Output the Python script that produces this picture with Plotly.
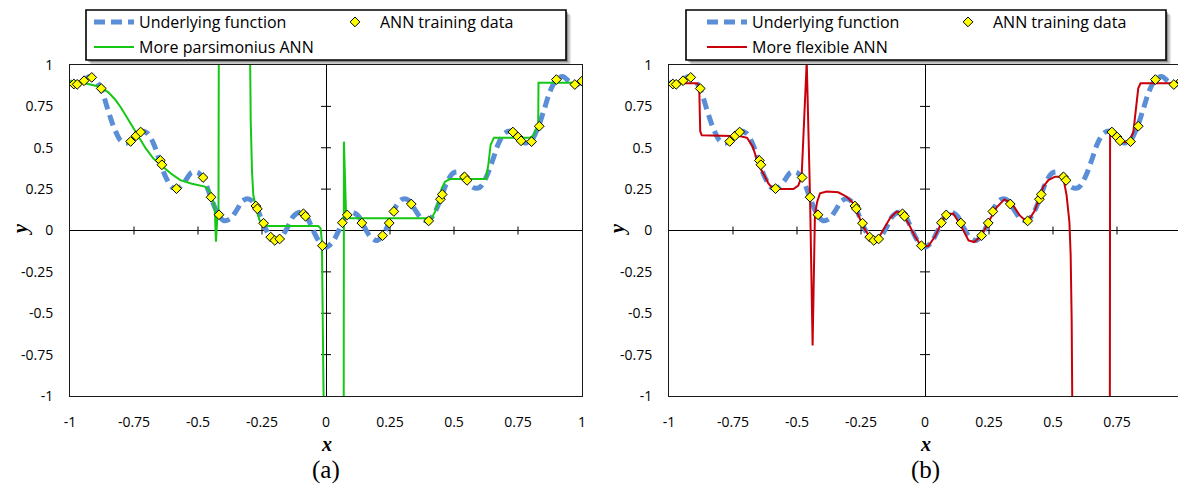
import plotly.graph_objects as go

W, H = 1178, 487

# Axis ticks
x_tick_vals = [-1, -0.75, -0.5, -0.25, 0, 0.25, 0.5, 0.75, 1]
x_tick_text = ["-1", "-0.75", "-0.5", "-0.25", "0", "0.25", "0.5", "0.75", "1"]
y_tick_vals = [-1, -0.75, -0.5, -0.25, 0, 0.25, 0.5, 0.75, 1]
y_tick_text = ["-1", "-0.75", "-0.5", "-0.25", "0", "0.25", "0.5", "0.75", "1"]

# Underlying function
func_x = [-1.0, -0.975, -0.95, -0.925, -0.9, -0.875, -0.85, -0.825, -0.8, -0.775,
          -0.75, -0.725, -0.7, -0.675, -0.65, -0.625, -0.6, -0.575, -0.55, -0.525,
          -0.5, -0.475, -0.45, -0.425, -0.4, -0.375, -0.35, -0.325, -0.3, -0.275,
          -0.25, -0.225, -0.2, -0.175, -0.15, -0.125, -0.1, -0.075, -0.05, -0.025,
          0.0, 0.025, 0.05, 0.075, 0.1, 0.125, 0.15, 0.175, 0.2, 0.225,
          0.25, 0.275, 0.3, 0.325, 0.35, 0.375, 0.4, 0.425, 0.45, 0.475,
          0.5, 0.525, 0.55, 0.575, 0.6, 0.625, 0.65, 0.675, 0.7, 0.725,
          0.75, 0.775, 0.8, 0.825, 0.85, 0.875, 0.9, 0.925, 0.95, 0.975, 1.0]
func_y = [0.90, 0.88, 0.90, 0.93, 0.91, 0.84, 0.72, 0.61, 0.54, 0.53,
          0.56, 0.60, 0.59, 0.53, 0.42, 0.32, 0.26, 0.26, 0.30, 0.35,
          0.35, 0.30, 0.20, 0.11, 0.06, 0.07, 0.12, 0.18, 0.19, 0.15,
          0.06, -0.02, -0.06, -0.04, 0.02, 0.09, 0.11, 0.08, 0.00, -0.07,
          -0.10, -0.07, 0.00, 0.08, 0.11, 0.09, 0.02, -0.04, -0.06, -0.02,
          0.06, 0.15, 0.19, 0.18, 0.12, 0.07, 0.06, 0.11, 0.20, 0.30,
          0.35, 0.35, 0.30, 0.26, 0.26, 0.32, 0.42, 0.53, 0.59, 0.60,
          0.56, 0.53, 0.54, 0.61, 0.72, 0.84, 0.91, 0.93, 0.90, 0.88, 0.90]

# ANN training data
train_x = [-0.985, -0.972, -0.945, -0.915, -0.878, -0.763, -0.742, -0.724, -0.647, -0.641,
           -0.584, -0.480, -0.449, -0.418, -0.274, -0.268, -0.244, -0.216, -0.200, -0.181,
           -0.088, -0.080, -0.014, 0.064, 0.083, 0.140, 0.221, 0.247, 0.265, 0.333,
           0.401, 0.447, 0.454, 0.541, 0.551, 0.730, 0.750, 0.762, 0.803, 0.833,
           0.900, 0.972, 1.000]
train_y = [0.885, 0.883, 0.905, 0.925, 0.858, 0.538, 0.572, 0.595, 0.423, 0.397,
           0.253, 0.320, 0.201, 0.095, 0.148, 0.131, 0.044, -0.040, -0.060, -0.051,
           0.101, 0.086, -0.092, 0.047, 0.094, 0.045, -0.031, 0.045, 0.115, 0.160,
           0.058, 0.189, 0.218, 0.324, 0.303, 0.595, 0.565, 0.542, 0.537, 0.630,
           0.912, 0.882, 0.903]

# More parsimonious ANN output
pars_x = [-1.000, -0.950, -0.900, -0.876, -0.850, -0.823, -0.800, -0.771, -0.750, -0.734,
          -0.704, -0.674, -0.644, -0.606, -0.569, -0.524, -0.473, -0.453, -0.440, -0.434,
          -0.430, -0.424, -0.420, -0.418, -0.300, -0.296, -0.294, -0.289, -0.284, -0.273,
          -0.260, -0.245, -0.225, -0.030, -0.021, -0.016, -0.006, 0.069, 0.070, 0.078,
          0.087, 0.094, 0.413, 0.426, 0.439, 0.452, 0.465, 0.484, 0.625, 0.634,
          0.643, 0.656, 0.797, 0.810, 0.823, 0.829, 0.830, 1.000]
pars_y = [0.905, 0.893, 0.875, 0.862, 0.835, 0.790, 0.740, 0.668, 0.615, 0.577,
          0.496, 0.435, 0.395, 0.344, 0.304, 0.283, 0.265, 0.235, 0.174, 0.114,
          -0.068, 0.094, 0.120, 1.600, 1.600, 1.000, 0.657, 0.355, 0.214, 0.134,
          0.063, 0.033, 0.027, 0.027, 0.013, -0.068, -1.500, -1.500, 0.537, 0.114,
          0.098, 0.074, 0.074, 0.114, 0.174, 0.255, 0.295, 0.311, 0.311, 0.396,
          0.517, 0.561, 0.561, 0.573, 0.627, 0.640, 0.893, 0.893]

# More flexible ANN output
flex_x = [-1.000, -0.890, -0.882, -0.878, -0.872, -0.800, -0.720, -0.695, -0.673, -0.658,
          -0.645, -0.632, -0.612, -0.595, -0.586, -0.514, -0.495, -0.482, -0.478, -0.462,
          -0.449, -0.439, -0.430, -0.421, -0.410, -0.384, -0.339, -0.306, -0.280, -0.260,
          -0.241, -0.221, -0.202, -0.182, -0.163, -0.137, -0.111, -0.091, -0.065, -0.039,
          -0.013, 0.013, 0.039, 0.081, 0.111, 0.140, 0.170, 0.192, 0.222, 0.251,
          0.281, 0.310, 0.340, 0.370, 0.400, 0.429, 0.462, 0.482, 0.508, 0.527,
          0.543, 0.553, 0.564, 0.569, 0.573, 0.576, 0.722, 0.723, 0.738, 0.755,
          0.781, 0.801, 0.814, 0.824, 0.833, 0.842, 1.000]
flex_y = [0.890, 0.890, 0.870, 0.600, 0.575, 0.573, 0.570, 0.560, 0.506, 0.435,
          0.380, 0.345, 0.285, 0.255, 0.251, 0.251, 0.271, 0.325, 0.456, 1.020,
          0.195, -0.695, 0.094, 0.174, 0.225, 0.235, 0.231, 0.204, 0.164, 0.094,
          0.023, -0.027, -0.057, -0.047, 0.003, 0.074, 0.114, 0.104, 0.044, -0.037,
          -0.098, -0.094, -0.037, 0.101, 0.101, 0.030, -0.060, -0.070, -0.030, 0.060,
          0.142, 0.188, 0.162, 0.091, 0.050, 0.121, 0.265, 0.305, 0.325, 0.325,
          0.295, 0.214, 0.053, -0.148, -0.551, -1.200, -1.200, 0.607, 0.567, 0.541,
          0.533, 0.547, 0.597, 0.718, 0.859, 0.889, 0.889]

BLUE = "#5A8ED6"
GREEN = "#14C814"
RED = "#C8000A"
YELLOW = "#FFFF00"

TICK_FONT = dict(family="Open Sans", size=14, color="#000000")
LEG_FONT = dict(family="Open Sans", size=16, color="#000000")
SERIF = "Liberation Serif"

# plot-area geometry in pixels and x pixel of the zero axis
PLOT_TOP, PLOT_BOTTOM = 65, 396
PANEL_A = dict(left=70, right=582, zero=326)
PANEL_B = dict(left=669, right=W, zero=925)
UNIT = 256  # pixels per x unit


def fx(p):
    return p / W


def fy(p):
    return 1 - p / H


fig = go.Figure()

panels = [
    dict(xa="x", ya="y", geo=PANEL_A, ann_name="More parsimonius ANN", ann_x=pars_x, ann_y=pars_y,
         ann_color=GREEN, legs=("legend", "legend2", "legend3"), tag="(a)",
         leg_box=(86, 566), leg_pos=(89, 330), ytitle_x=20),
    dict(xa="x2", ya="y2", geo=PANEL_B, ann_name="More flexible ANN", ann_x=flex_x, ann_y=flex_y,
         ann_color=RED, legs=("legend4", "legend5", "legend6"), tag="(b)",
         leg_box=(686, 1166), leg_pos=(702, 943), ytitle_x=617),
]

shapes = []
annotations = []
layout_extra = {}

for i, p in enumerate(panels):
    leg_func, leg_train, leg_ann = p["legs"]
    fig.add_trace(go.Scatter(
        x=func_x, y=func_y, mode="lines", name="Underlying function",
        line=dict(color=BLUE, width=5, dash="11px,6px", shape="spline", smoothing=1.0),
        xaxis=p["xa"], yaxis=p["ya"], legend=leg_func, hoverinfo="skip"))
    fig.add_trace(go.Scatter(
        x=p["ann_x"], y=p["ann_y"], mode="lines", name=p["ann_name"],
        line=dict(color=p["ann_color"], width=2),
        xaxis=p["xa"], yaxis=p["ya"], legend=leg_ann, hoverinfo="skip"))
    fig.add_trace(go.Scatter(
        x=train_x, y=train_y, mode="markers", name="ANN training data",
        marker=dict(symbol="diamond", size=7.5, color=YELLOW, line=dict(color="#000000", width=1)),
        xaxis=p["xa"], yaxis=p["ya"], legend=leg_train, hoverinfo="skip"))

    g = p["geo"]
    xmin = (g["left"] - g["zero"]) / UNIT
    xmax = (g["right"] - g["zero"]) / UNIT
    axis_common = dict(
        showgrid=False, zeroline=True, zerolinecolor="#000000", zerolinewidth=1,
        showline=True, linecolor="#1a1a1a", linewidth=1, ticks="",
        tickfont=TICK_FONT, fixedrange=True, automargin=False)
    xkey = "xaxis" if i == 0 else "xaxis2"
    ykey = "yaxis" if i == 0 else "yaxis2"
    layout_extra[xkey] = dict(
        axis_common, domain=[fx(g["left"]), fx(g["right"])], range=[xmin, xmax],
        tickvals=x_tick_vals, ticktext=x_tick_text, anchor=p["ya"], mirror=True,
        ticklabelstandoff=13)
    layout_extra[ykey] = dict(
        axis_common, domain=[fy(PLOT_BOTTOM), fy(PLOT_TOP)], range=[-1, 1],
        tickvals=y_tick_vals, ticktext=y_tick_text, anchor=p["xa"], mirror=(i == 0),
        ticklabelstandoff=13)

    # tick marks crossing the axes through the origin
    for t in x_tick_vals:
        if t in (-1, 0, 1):
            continue
        shapes.append(dict(type="line", xref=p["xa"], yref=p["ya"], x0=t, x1=t,
                           ysizemode="pixel", yanchor=0, y0=-4, y1=4,
                           line=dict(color="#000000", width=1), layer="below"))
    for t in y_tick_vals:
        if t in (-1, 0, 1):
            continue
        shapes.append(dict(type="line", xref=p["xa"], yref=p["ya"], y0=t, y1=t,
                           xsizemode="pixel", xanchor=0, x0=-5, x1=5,
                           line=dict(color="#000000", width=1), layer="below"))

    # legend frame with a soft drop shadow
    bx0, bx1 = p["leg_box"]
    by0, by1 = 10, 60
    for off, col in ((5, "rgba(0,0,0,0.10)"), (3.5, "rgba(0,0,0,0.18)"), (2, "rgba(0,0,0,0.25)")):
        shapes.append(dict(type="rect", xref="paper", yref="paper",
                           x0=fx(bx0 + off), x1=fx(bx1 + off), y0=fy(by1 + off), y1=fy(by0 + off),
                           line=dict(width=0), fillcolor=col, layer="above"))
    shapes.append(dict(type="rect", xref="paper", yref="paper",
                       x0=fx(bx0), x1=fx(bx1), y0=fy(by1), y1=fy(by0),
                       line=dict(color="#000000", width=1.6), fillcolor="#FFFFFF", layer="above"))

    lx_line, lx_mark = p["leg_pos"]
    leg_common = dict(bgcolor="rgba(0,0,0,0)", borderwidth=0, font=LEG_FONT, itemwidth=40,
                      orientation="h", xanchor="left", yanchor="middle", xref="paper", yref="paper",
                      itemclick=False, itemdoubleclick=False)
    layout_extra[leg_func] = dict(leg_common, x=fx(lx_line), y=fy(22))
    layout_extra[leg_train] = dict(leg_common, x=fx(lx_mark), y=fy(22))
    layout_extra[leg_ann] = dict(leg_common, x=fx(lx_line), y=fy(47))

    # axis titles and panel tag
    annotations.append(dict(text="<b><i>y</i></b>", xref="paper", yref="paper",
                            x=fx(p["ytitle_x"]), y=fy(230), showarrow=False, textangle=-90,
                            xanchor="center", yanchor="middle",
                            font=dict(family=SERIF, size=20, color="#000000")))
    annotations.append(dict(text="<b><i>x</i></b>", xref="paper", yref="paper",
                            x=fx(g["zero"]), y=fy(444), showarrow=False,
                            xanchor="center", yanchor="middle",
                            font=dict(family=SERIF, size=20, color="#000000")))
    annotations.append(dict(text=p["tag"], xref="paper", yref="paper",
                            x=fx(g["zero"]), y=fy(470), showarrow=False,
                            xanchor="center", yanchor="middle",
                            font=dict(family=SERIF, size=25, color="#000000")))

# the last x tick label of panel (b) sits on the page edge
annotations.append(dict(text=x_tick_text[-1], xref="paper", yref="paper",
                        x=fx(PANEL_B["zero"] + UNIT * x_tick_vals[-1]), y=fy(421),
                        showarrow=False, font=TICK_FONT, xanchor="center", yanchor="middle"))

fig.update_layout(
    template="none",
    width=W, height=H, autosize=False,
    margin=dict(l=0, r=0, t=0, b=0, pad=0, autoexpand=False),
    paper_bgcolor="#FFFFFF", plot_bgcolor="#FFFFFF",
    showlegend=True, shapes=shapes, annotations=annotations,
    **layout_extra)

fig.write_html("out.html")
